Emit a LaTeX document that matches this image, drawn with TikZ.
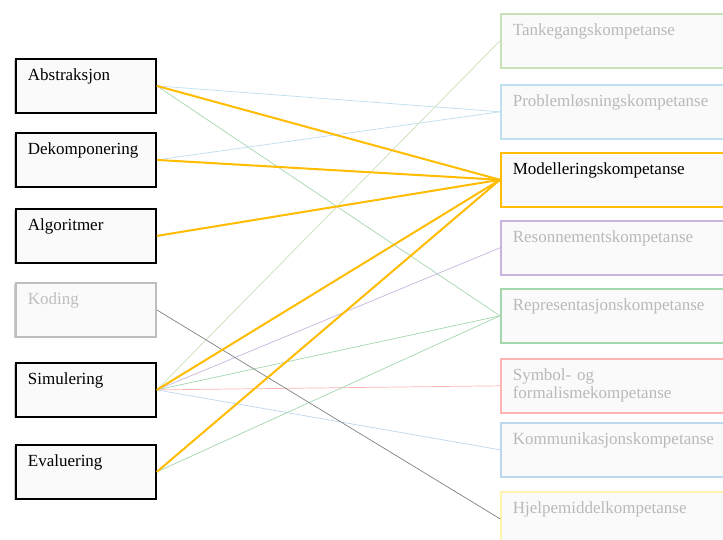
\documentclass[tikz,border=0pt]{standalone}
\usepackage{fontspec}
\setmainfont{Liberation Serif}
\usetikzlibrary{shadows}
\definecolor{boxfill}{RGB}{250,250,250}
\definecolor{ctorange}{RGB}{255,188,0}
\definecolor{textgray}{RGB}{185,185,185}
\definecolor{kodgray}{RGB}{190,190,190}
\definecolor{tankgreen}{RGB}{200,225,185}
\definecolor{probblue}{RGB}{190,222,242}
\definecolor{resviolet}{RGB}{200,180,222}
\definecolor{repgreen}{RGB}{165,215,175}
\definecolor{symred}{RGB}{255,180,180}
\definecolor{komblue}{RGB}{190,215,238}
\definecolor{hjyellow}{RGB}{255,245,170}
\definecolor{linegray}{RGB}{130,130,130}

\begin{document}
\begin{tikzpicture}[x=1pt,y=-1pt,
    box/.style={fill=boxfill,anchor=north west,align=left,
      font=\fontsize{17}{18}\selectfont,
      inner xsep=12pt,inner ysep=10pt,text height=12pt,text depth=22pt},
    ctbox/.style={box,draw=black,line width=1.8pt,minimum width=140pt,text width=116pt,
      drop shadow={shadow xshift=-2pt,shadow yshift=-1.5pt,opacity=.4}},
    kompbox/.style={box,draw=#1,line width=1.6pt,minimum width=300pt,text width=276pt,
      text=textgray,drop shadow={shadow xshift=0pt,shadow yshift=-1.5pt,opacity=.12}},
    link/.style={line width=0.7pt,#1},
    hit/.style={line width=2pt,ctorange}]
  \useasboundingbox (0,0) rectangle (723,540);
  \clip (0,0) rectangle (723,540);
  \fill[white] (0,0) rectangle (723,540);

  % computational thinking
  \node[ctbox] (abs) at (15,58) {Abstraksjon};
  \node[ctbox] (dek) at (15,132) {Dekomponering};
  \node[ctbox] (alg) at (15,208) {Algoritmer};
  \node[ctbox,draw=kodgray,text=kodgray] (kod) at (15,282) {Koding};
  \node[ctbox] (sim) at (15,362) {Simulering};
  \node[ctbox] (eva) at (15,444) {Evaluering};

  % kompetanser
  \node[kompbox=tankgreen] (tank) at (500,13) {Tankegangskompetanse};
  \node[kompbox=probblue] (prob) at (500,84) {Problemløsningskompetanse};
  \node[kompbox=ctorange,text=black] (mod) at (500,152) {Modelleringskompetanse};
  \node[kompbox=resviolet] (res) at (500,220) {Resonnementskompetanse};
  \node[kompbox=repgreen] (rep) at (500,288) {Representasjonskompetanse};
  \node[kompbox=symred] (sym) at (500,358)
    {\begin{tabular}[t]{@{}l@{}}Symbol- og\\formalismekompetanse\end{tabular}};
  \node[kompbox=komblue] (kom) at (500,422) {Kommunikasjonskompetanse};
  \node[kompbox=hjyellow] (hj) at (500,491) {Hjelpemiddelkompetanse};

  % faint links
  \draw[link=probblue] (abs.east) -- (prob.west);
  \draw[link=repgreen] (abs.east) -- (rep.west);
  \draw[link=probblue] (dek.east) -- (prob.west);
  \draw[link=tankgreen] (sim.east) -- (tank.west);
  \draw[link=resviolet] (sim.east) -- (res.west);
  \draw[link=repgreen] (sim.east) -- (rep.west);
  \draw[link=symred] (sim.east) -- (sym.west);
  \draw[link=komblue] (sim.east) -- (kom.west);
  \draw[link=repgreen] (eva.east) -- (rep.west);
  \draw[link=linegray] (kod.east) -- (hj.west);

  % modellering
  \draw[hit] (abs.east) -- (mod.west);
  \draw[hit] (dek.east) -- (mod.west);
  \draw[hit] (alg.east) -- (mod.west);
  \draw[hit] (sim.east) -- (mod.west);
  \draw[hit] (eva.east) -- (mod.west);
\end{tikzpicture}
\end{document}
